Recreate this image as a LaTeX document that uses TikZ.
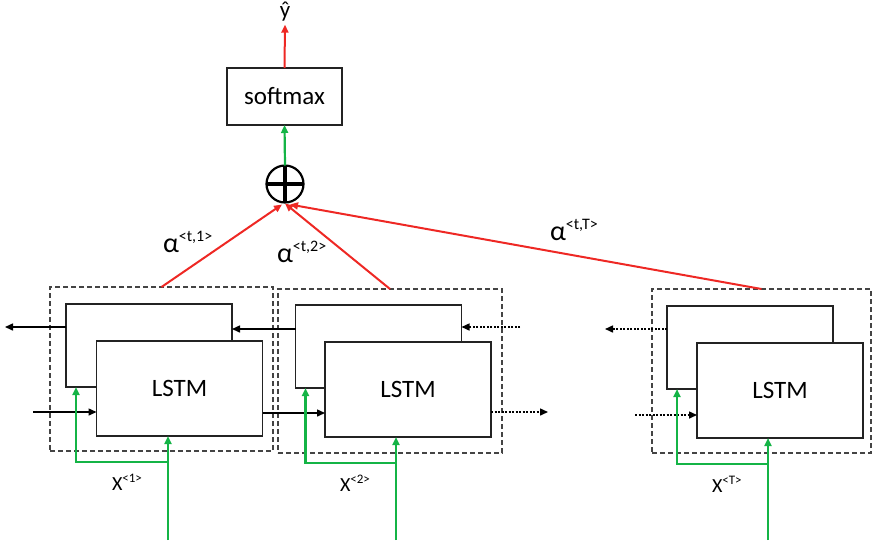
\documentclass[tikz,border=0pt]{standalone}
\usepackage{fontspec}
\setmainfont{Carlito}
\usetikzlibrary{arrows.meta}
\definecolor{lred}{RGB}{238,40,36}
\definecolor{lgreen}{RGB}{20,180,70}
\definecolor{edge}{RGB}{35,35,35}
\newcommand{\alab}[1]{{\fontsize{28}{30}\selectfont α}\raisebox{11pt}{\fontsize{16}{18}\selectfont <#1>}}
\newcommand{\xlab}[1]{{\fontsize{20}{24}\selectfont X}\raisebox{8pt}{\fontsize{13}{15}\selectfont <#1>}}
\begin{document}
\begin{tikzpicture}[x=1pt,y=-1pt,
 box/.style={draw=edge, line width=1.8pt, fill=white, inner sep=0pt, outer sep=0pt, minimum width=166pt},
 backbox/.style={box, minimum height=83pt},
 frontbox/.style={box, minimum height=95pt, font=\fontsize{25}{30}\selectfont},
 dashbox/.style={draw=edge!85, dash pattern=on 5pt off 3pt, line width=1.2pt, inner sep=0pt, outer sep=0pt, minimum height=164pt},
 barrow/.style={draw=black, line width=1.5pt, -{Triangle[length=8pt,width=7pt]}},
 darrow/.style={barrow, dash pattern=on 2pt off 1.5pt},
 garrow/.style={draw=lgreen, line width=2.2pt, -{Triangle[length=8pt,width=7pt]}},
 rarrow/.style={draw=lred, line width=2pt, -{Triangle[length=8pt,width=7pt]}},
 lab/.style={inner sep=0pt, outer sep=0pt}
]
\useasboundingbox (0,0) rectangle (873,547);

% top part
\node[lab, font=\fontsize{23}{26}\selectfont] (yhat) at (285,12) {ŷ};
\node[box, minimum width=115pt, minimum height=57pt, font=\fontsize{25}{30}\selectfont] (soft) at (284.5,96.5) {softmax};
\node[circle, draw=black, fill=white, line width=2.2pt, minimum size=37pt, inner sep=0pt, outer sep=0pt] (sum) at (285,184) {};
\draw[line width=4pt] (sum.north) -- (sum.south) (sum.west) -- (sum.east);
\draw[rarrow] (soft.north) -- ([yshift=-3pt]yhat.south);
\draw[garrow] (sum.north) -- (soft.south);

% dashed groups
\node[dashbox, minimum width=223pt] (d1) at (161.5,369) {};
\node[dashbox, minimum width=224pt] (d2) at (390,371) {};
\node[dashbox, minimum width=219pt] (d3) at (761.5,371) {};

% LSTM boxes
\node[backbox] (b1) at (149,345.5) {};
\node[frontbox] (f1) at (179.5,388.5) {LSTM};
\node[backbox] (b2) at (378.5,346.5) {};
\node[frontbox] (f2) at (408,389.5) {LSTM};
\node[backbox] (b3) at (750,347.5) {};
\node[frontbox] (f3) at (780,390.5) {LSTM};

% attention arrows
\draw[rarrow] (d1.north) -- ([xshift=-3pt,yshift=-2pt]sum.south);
\draw[rarrow] (d2.north) -- ([yshift=-1pt]sum.south);
\draw[rarrow] (d3.north) -- ([xshift=5pt,yshift=-2pt]sum.south);
\node[lab, anchor=base west] (a1) at (163,252) {\alab{t,1}};
\node[lab, anchor=base west] (a2) at (277,262) {\alab{t,2}};
\node[lab, anchor=base west] (aT) at (550,240) {\alab{t,T}};

% recurrent connections
\coordinate (o1) at (5,327);
\draw[barrow] (b1.west |- o1) -- (o1);
\draw[barrow] (b2.west |- 0,329) -- (b1.east |- 0,329);
\coordinate (i1) at (33,412);
\draw[barrow] (i1) -- (f1.west |- i1);
\draw[barrow] (f1.east |- 0,413) -- (f2.west |- 0,413);
\coordinate (i2) at (520,327);
\draw[darrow] (i2) -- (b2.east |- i2);
\coordinate (o2) at (548,412);
\draw[darrow] (f2.east |- o2) -- (o2);
\coordinate (o3) at (605,329);
\draw[darrow] (b3.west |- o3) -- (o3);
\coordinate (i3) at (635,415);
\draw[darrow] (i3) -- (f3.west |- i3);

% inputs
\coordinate (x1) at (168,540);
\draw[garrow] (x1) -- (f1.south -| x1);
\draw[garrow] (x1 |- 0,462) -| ([xshift=10pt]b1.south west);
\coordinate (x2) at (396,540);
\draw[garrow] (x2) -- (f2.south -| x2);
\draw[garrow] (x2 |- 0,463) -| ([xshift=10pt]b2.south west);
\coordinate (x3) at (768,540);
\draw[garrow] (x3) -- (f3.south -| x3);
\draw[garrow] (x3 |- 0,464) -| ([xshift=10pt]b3.south west);

\node[lab, anchor=base west] (l1) at (112,490) {\xlab{1}};
\node[lab, anchor=base west] (l2) at (340,491) {\xlab{2}};
\node[lab, anchor=base west] (l3) at (712,492) {\xlab{T}};
\end{tikzpicture}
\end{document}
